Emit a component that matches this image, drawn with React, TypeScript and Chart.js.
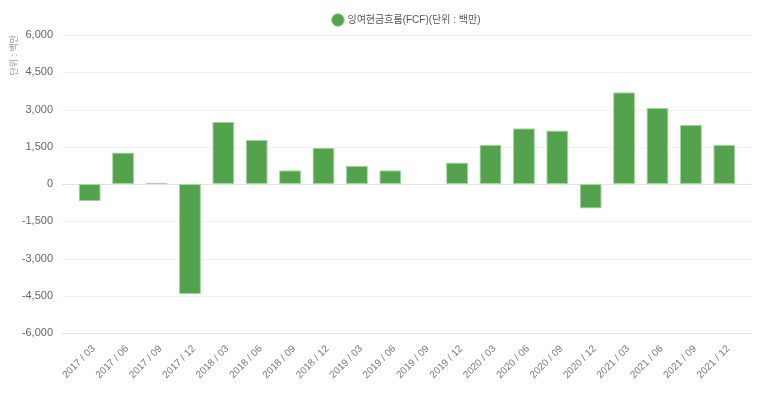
import React, { useEffect, useRef } from "react";
import { Chart, registerables } from "chart.js";

Chart.register(...registerables);

const categories = [
  "2017 / 03", "2017 / 06", "2017 / 09", "2017 / 12",
  "2018 / 03", "2018 / 06", "2018 / 09", "2018 / 12",
  "2019 / 03", "2019 / 06", "2019 / 09", "2019 / 12",
  "2020 / 03", "2020 / 06", "2020 / 09", "2020 / 12",
  "2021 / 03", "2021 / 06", "2021 / 09", "2021 / 12",
];
const fcfValues: (number | null)[] = [
  -690, 1270, 50, -4430,
  2500, 1780, 550, 1460,
  730, 550, null, 865,
  1580, 2240, 2150, -990,
  3690, 3065, 2390, 1580,
];
const seriesLabel = "잉여현금흐름(FCF)(단위 : 백만)";
const yAxisTitle = "단위 : 백만";
const yMin = -6000;
const yMax = 6000;
const yStep = 1500;

const FONT = "'Liberation Sans', Arial, 'Noto Sans CJK KR', sans-serif";

const gridPlugin = {
  id: "extendedGrid",
  beforeDatasetsDraw(chart: any) {
    const { ctx, chartArea, scales } = chart;
    const y = scales.y;
    ctx.save();
    y.ticks.forEach((t: any) => {
      const py = Math.round(y.getPixelForValue(t.value)) + 0.5;
      let color = "#f2f2f2";
      if (t.value === 0) color = "#e3e3e3";
      if (t.value === yMin) color = "#e3e3e3";
      ctx.strokeStyle = color;
      ctx.lineWidth = 1;
      ctx.beginPath();
      ctx.moveTo(chartArea.left - 11, py);
      ctx.lineTo(chartArea.right + 11, py);
      ctx.stroke();
    });
    ctx.restore();
  },
};

export default function App() {
  const ref = useRef<HTMLCanvasElement | null>(null);
  useEffect(() => {
    if (!ref.current) return;
    const chart = new Chart(ref.current, {
      type: "bar",
      data: {
        labels: categories,
        datasets: [
          {
            label: seriesLabel,
            data: fcfValues,
            backgroundColor: "#52a34b",
            borderColor: "#a6d6a1",
            borderWidth: 1,
            borderSkipped: false,
            categoryPercentage: 1,
            barPercentage: 0.66,
          },
        ],
      },
      options: {
        animation: false,
        responsive: false,
        maintainAspectRatio: false,
        layout: { padding: { left: 0, right: 32, top: 7, bottom: 0 } },
        plugins: {
          tooltip: { enabled: false },
          legend: {
            display: true,
            position: "top",
            fullSize: false,
            labels: {
              usePointStyle: true,
              pointStyle: "circle",
              boxHeight: 9,
              boxWidth: 9,
              padding: 8,
              color: "#555",
              font: { family: FONT, size: 10 },
            },
          },
        },
        scales: {
          x: {
            grid: { display: false },
            border: { display: false },
            ticks: {
              maxRotation: 45,
              minRotation: 45,
              color: "#777",
              font: { family: FONT, size: 10 },
              padding: 2,
              labelOffset: 4,
            },
            afterFit(scale: any) {
              scale.height = 66;
            },
          },
          y: {
            min: yMin,
            max: yMax,
            grid: { display: false },
            border: { display: false },
            ticks: {
              stepSize: yStep,
              color: "#666",
              font: { family: FONT, size: 11 },
              padding: 12,
              callback: (v: any) => Number(v).toLocaleString("en-US"),
            },
            title: {
              display: true,
              text: yAxisTitle,
              align: "end",
              color: "#999",
              font: { family: FONT, size: 9 },
              padding: { top: 9, bottom: 0 },
            },
            afterFit(scale: any) {
              scale.width = 73;
            },
          },
        },
      },
      plugins: [gridPlugin],
    });
    return () => chart.destroy();
  }, []);
  return (
    <div style={{ position: "fixed", left: 0, top: 0, width: 773, height: 399, background: "#fff" }}>
      <canvas ref={ref} width={773} height={399} style={{ width: 773, height: 399 }} />
    </div>
  );
}
